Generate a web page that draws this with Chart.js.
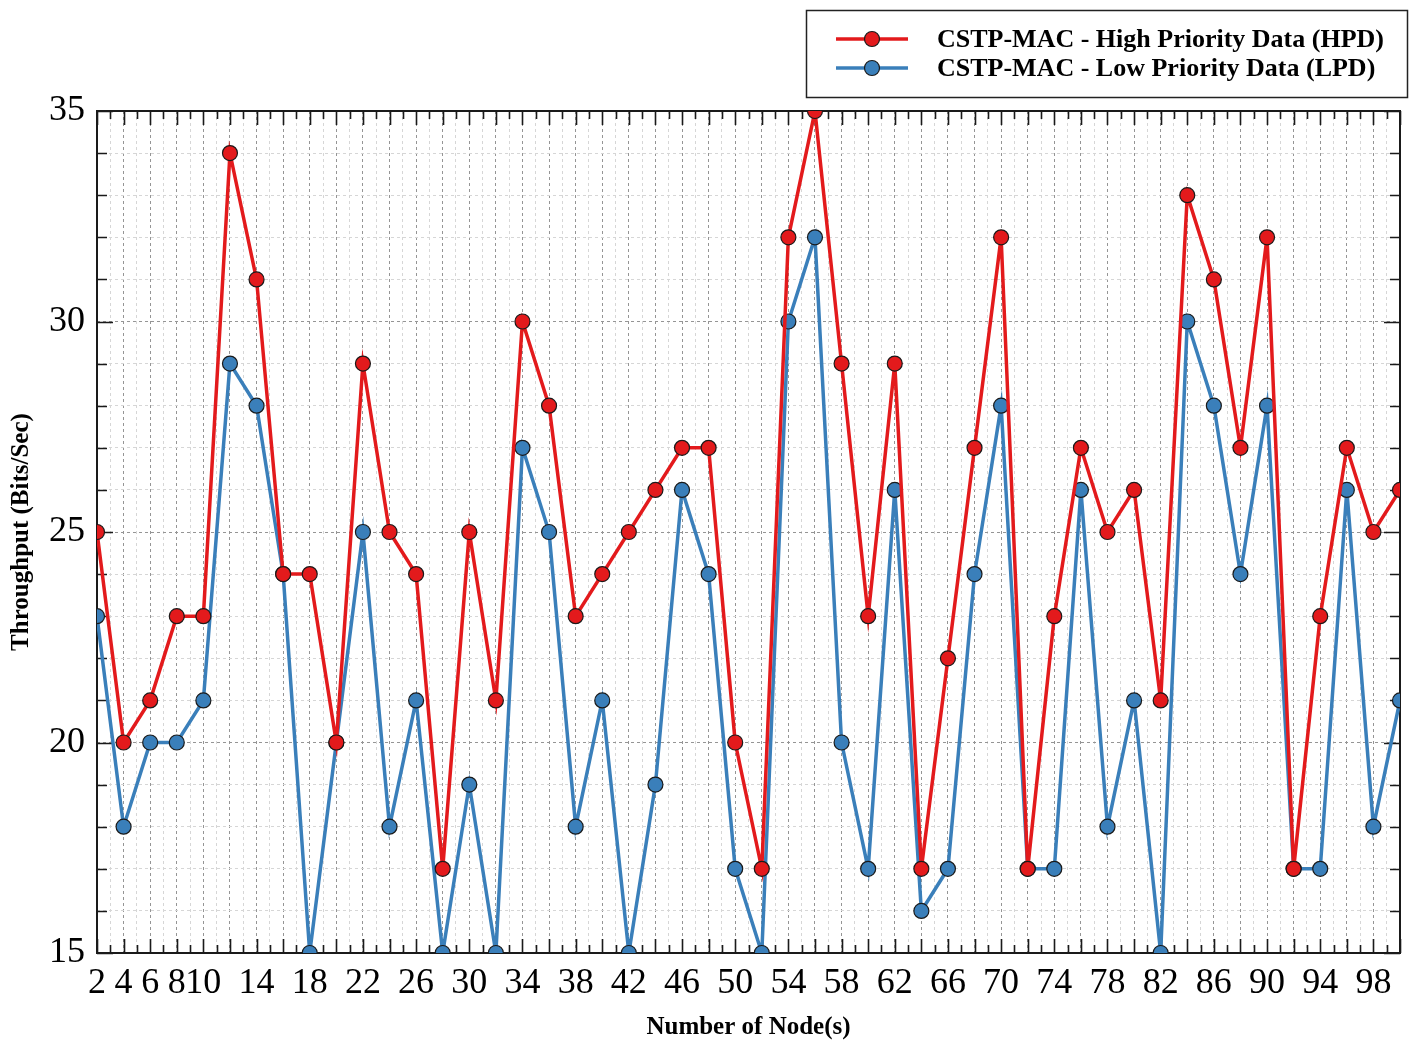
<!DOCTYPE html>
<html>
<head>
<meta charset="utf-8">
<title>Throughput vs Number of Nodes</title>
<script src="https://cdn.jsdelivr.net/npm/chart.js@4.4.0/dist/chart.umd.min.js"></script>
<style>
  html, body { margin: 0; padding: 0; background: #fff; }
  #wrap { width: 1411px; height: 1040px; }
</style>
</head>
<body>
<div id="wrap"><canvas id="chart" width="1411" height="1040"></canvas></div>
<script>
// Node counts on the x axis
const nodes = [2, 4, 6, 8, 10, 12, 14, 16, 18, 20, 22, 24, 26, 28, 30, 32, 34, 36, 38, 40,
               42, 44, 46, 48, 50, 52, 54, 56, 58, 60, 62, 64, 66, 68, 70, 72, 74, 76, 78, 80,
               82, 84, 86, 88, 90, 92, 94, 96, 98, 100];

// Throughput (bits/sec) per node count
const hpd = [25, 20, 21, 23, 23, 34, 31, 24, 24, 20, 29, 25, 24, 17, 25, 21, 30, 28, 23, 24,
             25, 26, 27, 27, 20, 17, 32, 35, 29, 23, 29, 17, 22, 27, 32, 17, 23, 27, 25, 26,
             21, 33, 31, 27, 32, 17, 23, 27, 25, 26];
const lpd = [23, 18, 20, 20, 21, 29, 28, 24, 15, 20, 25, 18, 21, 15, 19, 15, 27, 25, 18, 21,
             15, 19, 26, 24, 17, 15, 30, 32, 20, 17, 26, 16, 17, 24, 28, 17, 17, 26, 18, 21,
             15, 30, 28, 24, 28, 17, 17, 26, 18, 21];

// Which ticks carry a text label
const xLabels = [2, 4, 6, 8, 10, 14, 18, 22, 26, 30, 34, 38, 42, 46, 50, 54, 58, 62, 66, 70,
                 74, 78, 82, 86, 90, 94, 98];
const yLabels = [15, 20, 25, 30, 35];

const RED = '#e31a1c';
const BLUE = '#3a7fba';
const SERIF = '"Liberation Serif", "Times New Roman", serif';

function toPoints(values) {
    return nodes.map((n, i) => ({ x: n, y: values[i] }));
}

// inward tick marks on all four sides plus the plot frame
const framePlugin = {
    id: 'frame',
    beforeDatasetsDraw(chart) {
        const { ctx, chartArea: a, scales: { x, y } } = chart;
        ctx.save();
        ctx.strokeStyle = '#1a1a1a';
        ctx.lineWidth = 1.6;
        ctx.beginPath();
        for (let v = x.min; v <= x.max; v++) {
            const px = Math.round(x.getPixelForValue(v)) + 0.5;
            const len = v % 2 === 0 ? 14 : 8;
            ctx.moveTo(px, a.bottom); ctx.lineTo(px, a.bottom - len);
            ctx.moveTo(px, a.top); ctx.lineTo(px, a.top + len);
        }
        for (let v = y.min; v <= y.max; v++) {
            const py = Math.round(y.getPixelForValue(v)) + 0.5;
            const len = v % 5 === 0 ? 16 : 10;
            ctx.moveTo(a.left, py); ctx.lineTo(a.left + len, py);
            ctx.moveTo(a.right, py); ctx.lineTo(a.right - len, py);
        }
        ctx.stroke();
        ctx.lineWidth = 2;
        ctx.strokeRect(a.left, a.top, a.right - a.left, a.bottom - a.top);
        ctx.restore();
    },
    afterDraw(chart) {
        // boxed legend above the plot, right side
        const { ctx } = chart;
        const box = { x: 806, y: 10, w: 601, h: 87 };
        ctx.save();
        ctx.fillStyle = '#fff';
        ctx.fillRect(box.x, box.y, box.w, box.h);
        ctx.strokeStyle = '#222';
        ctx.lineWidth = 1.5;
        ctx.strokeRect(box.x + 0.5, box.y + 0.5, box.w, box.h);
        chart.data.datasets.forEach((ds, i) => {
            const cy = 39 + i * 29;
            ctx.strokeStyle = ds.borderColor;
            ctx.lineWidth = 3.5;
            ctx.beginPath();
            ctx.moveTo(836, cy); ctx.lineTo(908, cy);
            ctx.stroke();
            ctx.beginPath();
            ctx.arc(872, cy, 7.5, 0, Math.PI * 2);
            ctx.fillStyle = ds.backgroundColor;
            ctx.fill();
            ctx.lineWidth = 1.2;
            ctx.strokeStyle = '#1a1a1a';
            ctx.stroke();
            ctx.fillStyle = '#000';
            ctx.font = 'bold 26px ' + SERIF;
            ctx.textBaseline = 'middle';
            ctx.fillText(ds.label, 937, cy + 1);
        });
        ctx.restore();
    }
};

const dsStyle = (color) => ({
    borderColor: color,
    backgroundColor: color,
    borderWidth: 3.5,
    pointRadius: 7.5,
    pointBorderWidth: 1.2,
    pointBorderColor: '#1a1a1a',
    pointBackgroundColor: color,
    tension: 0,
    clip: 0
});

new Chart(document.getElementById('chart'), {
    type: 'line',
    data: {
        datasets: [
            { label: 'CSTP-MAC - High Priority Data (HPD)', data: toPoints(hpd), ...dsStyle(RED) },
            { label: 'CSTP-MAC - Low Priority Data (LPD)', data: toPoints(lpd), ...dsStyle(BLUE) }
        ]
    },
    options: {
        responsive: false,
        animation: false,
        layout: { padding: { top: 111, right: 11, left: 0, bottom: 0 } },
        plugins: { legend: { display: false }, tooltip: { enabled: false } },
        scales: {
            x: {
                type: 'linear',
                min: 2,
                max: 100,
                afterFit: (s) => { s.height = 87; },
                grid: {
                    drawTicks: false,
                    lineWidth: 1,
                    color: (c) => (c.tick.value % 2 === 0 ? '#959595' : '#d6d6d6')
                },
                border: { display: false, dash: [3, 3] },
                ticks: {
                    stepSize: 1,
                    autoSkip: false,
                    maxRotation: 0,
                    padding: 9,
                    color: '#000',
                    font: { family: SERIF, size: 36 },
                    callback: (v) => (xLabels.includes(v) ? String(v) : '')
                },
                title: {
                    display: true,
                    text: 'Number of Node(s)',
                    color: '#000',
                    padding: { top: 0, bottom: 0 },
                    font: { family: SERIF, size: 25, weight: 'bold', lineHeight: 1 }
                }
            },
            y: {
                min: 15,
                max: 35,
                afterFit: (s) => { s.width = 97; },
                grid: {
                    drawTicks: false,
                    lineWidth: 1,
                    color: (c) => (c.tick.value % 5 === 0 ? '#959595' : '#d6d6d6')
                },
                border: { display: false, dash: [3, 3] },
                ticks: {
                    stepSize: 1,
                    autoSkip: false,
                    padding: 12,
                    color: '#000',
                    font: { family: SERIF, size: 36 },
                    callback: (v) => (yLabels.includes(v) ? String(v) : '')
                },
                title: {
                    display: true,
                    text: 'Throughput (Bits/Sec)',
                    color: '#000',
                    padding: { top: 9, bottom: 0 },
                    font: { family: SERIF, size: 25, weight: 'bold', lineHeight: 1 }
                }
            }
        }
    },
    plugins: [framePlugin]
});
</script>
</body>
</html>
